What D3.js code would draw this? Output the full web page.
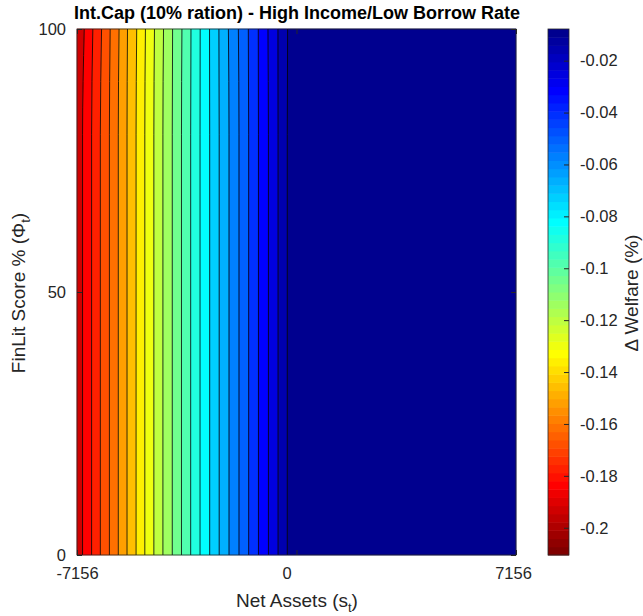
<!DOCTYPE html>
<html>
<head>
<meta charset="utf-8">
<script src="https://cdnjs.cloudflare.com/ajax/libs/d3/7.8.5/d3.min.js"></script>
<style>
  body { margin: 0; background: #fff; }
  text { font-family: "Liberation Sans", Arial, sans-serif; fill: #262626; }
</style>
</head>
<body>
<div id="chart"></div>
<script>
// --data--
const netAssetTicks = [-7156, 0, 7156];
const finlitTicks = [0, 50, 100];
const welfareTicks = [-0.2, -0.18, -0.16, -0.14, -0.12, -0.1, -0.08, -0.06, -0.04, -0.02];
const welfareRange = [-0.2105, -0.0078];

// welfare value of each filled band, left to right
const bandWelfare = [-0.193, -0.185, -0.177, -0.169, -0.161, -0.153, -0.145, -0.137,
                     -0.129, -0.121, -0.113, -0.105, -0.097, -0.089, -0.081, -0.073,
                     -0.065, -0.057, -0.049, -0.041, -0.033, -0.025, -0.017, -0.009];

// net assets where each contour line sits, low part (FinLit 0..80) and at FinLit 100
const lineAssetsLow = [-6975, -6680, -6395, -6100, -5810, -5525, -5230, -4945,
                       -4650, -4355, -4050, -3750, -3450, -3145, -2830, -2520,
                       -2200, -1875, -1560, -1240, -915, -600, -300];
const lineAssetsTop = [-6920, -6640, -6355, -6075, -5785, -5510, -5210, -4925,
                       -4630, -4335, -4040, -3735, -3440, -3140, -2835, -2530,
                       -2220, -1895, -1570, -1245, -930, -605, -290];
const bendFinlit = 80;

// --jet colormap (64 rows), flipped so low = dark red--
function jetRow(i) {
  var r = 0, g = 0, b = 0;
  if (i <= 8) { b = (8 + i) / 16; }
  else if (i <= 24) { g = (i - 8) / 16; b = 1; }
  else if (i <= 40) { r = (i - 24) / 16; g = 1; b = 1 - (i - 24) / 16; }
  else if (i <= 56) { r = 1; g = 1 - (i - 40) / 16; }
  else { r = 1 - (i - 56) / 16; }
  return d3.rgb(r * 255, g * 255, b * 255).formatHex();
}
var cmap = d3.range(64).map(k => jetRow(64 - k));

// --layout--
const W = 643, H = 616;
const plot = {left: 77, top: 29, width: 439, height: 526};
const cbar = {left: 548, width: 21};

var svg = d3.select("#chart").append("svg")
  .attr("width", W)
  .attr("height", H);

var x = d3.scaleLinear().domain([-7156, 7156]).range([plot.left, plot.left + plot.width]);
var y = d3.scaleLinear().domain([0, 100]).range([plot.top + plot.height, plot.top]);
var color = d3.scaleQuantize().domain(welfareRange).range(cmap);

// boundaries: left edge, every contour line, right edge
function lineOf(lo, top) {
  return [{f: 0, s: lo}, {f: bendFinlit, s: lo}, {f: 100, s: top}];
}
var bounds = [lineOf(-7156, -7156)];
lineAssetsLow.forEach((v, i) => bounds.push(lineOf(v, lineAssetsTop[i])));
bounds.push(lineOf(7156, 7156));

var area = d3.area()
  .curve(d3.curveMonotoneY)
  .y(d => y(d.f))
  .x0(d => x(d.a))
  .x1(d => x(d.b));

var g = svg.append("g");
bandWelfare.forEach(function(v, i) {
  var pts = bounds[i].map((p, j) => ({f: p.f, a: p.s, b: bounds[i + 1][j].s}));
  g.append("path")
    .attr("d", area(pts))
    .attr("fill", color(v))
    .attr("stroke", color(v))
    .attr("stroke-width", 0.6);
});

var line = d3.line()
  .curve(d3.curveMonotoneY)
  .y(d => y(d.f))
  .x(d => x(d.s));

bounds.slice(1, -1).forEach(function(b) {
  g.append("path")
    .attr("d", line(b))
    .attr("fill", "none")
    .attr("stroke", "#000")
    .attr("stroke-width", 0.8);
});

// --axes--
const tickFont = "16.5px";
function styleAxis(sel) {
  sel.select(".domain").remove();
  sel.selectAll("line").attr("stroke", "#262626");
  sel.selectAll("text").style("font-size", tickFont).attr("fill", "#262626");
}

var xAxis = svg.append("g")
  .attr("transform", `translate(0,${plot.top + plot.height})`)
  .call(d3.axisBottom(x).tickValues(netAssetTicks).tickFormat(d3.format("d"))
        .tickSizeInner(-5).tickSizeOuter(0).tickPadding(12))
  .call(styleAxis);
xAxis.selectAll("text")
  .attr("dx", d => (d === 0 ? -10 : d > 0 ? -3 : 0))
  .text(d => String(d));

svg.append("g")
  .attr("transform", `translate(0,${plot.top})`)
  .call(d3.axisTop(x).tickValues(netAssetTicks).tickFormat("").tickSizeInner(-5).tickSizeOuter(0))
  .call(styleAxis);

svg.append("g")
  .attr("transform", `translate(${plot.left},0)`)
  .call(d3.axisLeft(y).tickValues(finlitTicks).tickSizeInner(-5).tickSizeOuter(0).tickPadding(11))
  .call(styleAxis);

svg.append("g")
  .attr("transform", `translate(${plot.left + plot.width},0)`)
  .call(d3.axisRight(y).tickValues(finlitTicks).tickFormat("").tickSizeInner(-5).tickSizeOuter(0))
  .call(styleAxis);

svg.append("rect")
  .attr("x", plot.left).attr("y", plot.top)
  .attr("width", plot.width).attr("height", plot.height)
  .attr("fill", "none")
  .attr("stroke", "#262626")
  .attr("stroke-width", 0.8);

// --colorbar--
var cy = d3.scaleLinear().domain(welfareRange).range([plot.top + plot.height, plot.top]);
var step = (welfareRange[1] - welfareRange[0]) / cmap.length;
svg.append("g").selectAll("rect")
  .data(cmap)
  .join("rect")
  .attr("x", cbar.left)
  .attr("width", cbar.width)
  .attr("y", (c, k) => cy(welfareRange[0] + (k + 1) * step))
  .attr("height", (c, k) => cy(welfareRange[0] + k * step) - cy(welfareRange[0] + (k + 1) * step) + 0.5)
  .attr("fill", c => c);

svg.append("g")
  .attr("transform", `translate(${cbar.left + cbar.width},0)`)
  .call(d3.axisRight(cy).tickValues(welfareTicks).tickFormat(d => String(+d.toFixed(2)))
        .tickSizeInner(-5).tickSizeOuter(0).tickPadding(11))
  .call(styleAxis);

svg.append("rect")
  .attr("x", cbar.left).attr("y", plot.top)
  .attr("width", cbar.width).attr("height", plot.height)
  .attr("fill", "none")
  .attr("stroke", "#262626")
  .attr("stroke-width", 0.8);

// --labels--
svg.append("text")
  .attr("x", 297).attr("y", 19)
  .attr("text-anchor", "middle")
  .style("font-size", "18px")
  .style("font-weight", "bold")
  .attr("fill", "#000")
  .style("fill", "#000")
  .text("Int.Cap (10% ration) - High Income/Low Borrow Rate");

var xl = svg.append("text")
  .attr("x", 297).attr("y", 607)
  .attr("text-anchor", "middle")
  .style("font-size", "19px");
xl.append("tspan").text("Net Assets (s");
xl.append("tspan").attr("dy", 5).style("font-size", "13px").text("t");
xl.append("tspan").attr("dy", -5).text(")");

var yl = svg.append("text")
  .attr("transform", "translate(25,293) rotate(-90)")
  .attr("text-anchor", "middle")
  .style("font-size", "19px");
yl.append("tspan").text("FinLit Score % (\u03A6");
yl.append("tspan").attr("dy", 5).style("font-size", "13px").text("t");
yl.append("tspan").attr("dy", -5).text(")");

svg.append("text")
  .attr("transform", "translate(638,293) rotate(-90)")
  .attr("text-anchor", "middle")
  .style("font-size", "19px")
  .text("\u0394 Welfare (%)");
</script>
</body>
</html>
